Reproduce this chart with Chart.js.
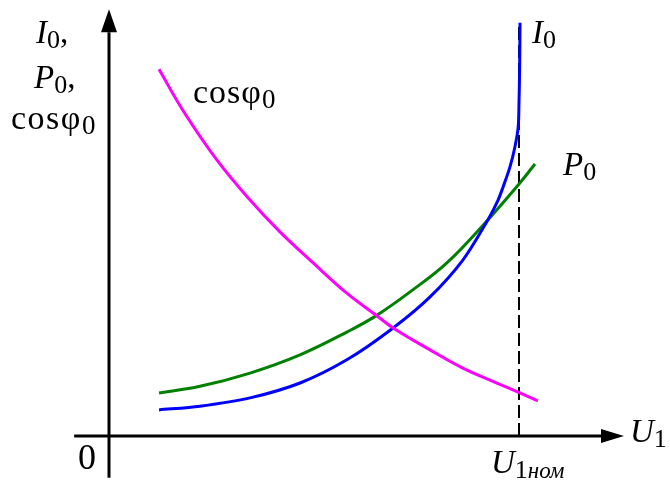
<!DOCTYPE html>
<html><head><meta charset="utf-8">
<script src="https://cdn.jsdelivr.net/npm/chart.js@4/dist/chart.umd.min.js"></script>
<style>html,body{margin:0;padding:0;background:#fff}canvas{display:block}</style>
</head><body>
<canvas id="c" width="670" height="483"></canvas>
<script>
// Data (arbitrary units, origin at axes intersection; U1nom = 10)
const cosU = [1.22, 1.80, 2.63, 3.44, 4.17, 4.98, 5.80, 6.54, 6.93, 7.83, 8.63, 9.46, 10.02, 10.46];
const cosV = [8.86, 7.87, 6.67, 5.70, 4.93, 4.18, 3.45, 2.90, 2.61, 2.08, 1.64, 1.28, 1.04, 0.85];
const p0U = [1.22, 2.22, 3.44, 4.66, 5.80, 6.54, 7.41, 8.24, 9.24, 10.02, 10.39];
const p0V = [1.04, 1.20, 1.52, 1.96, 2.51, 2.92, 3.53, 4.18, 5.22, 6.11, 6.57];
const i0U = [1.22, 2.22, 3.44, 4.66, 5.80, 6.93, 7.83, 8.63, 9.24, 9.49, 9.61, 9.78, 9.90, 9.98, 10.00, 10.015, 10.025];
const i0V = [0.63, 0.72, 0.92, 1.28, 1.84, 2.61, 3.36, 4.25, 5.22, 5.70, 6.01, 6.50, 6.98, 7.46, 8.04, 8.84, 9.98];
const uNom = 10;
const nomTop = 9.9;
const xAxisRange = [-0.85, 12.0];
const yAxisRange = [-1.01, 9.75];

const pts = (xs, ys) => xs.map((x, i) => ({x, y: ys[i]}));
const F = '"Liberation Serif", "Times New Roman", serif';

const axesPlugin = {
  id: 'axesDraw',
  beforeDatasetsDraw(chart) {
    const ctx = chart.ctx, xs = chart.scales.x, ys = chart.scales.y;
    const x0 = xs.getPixelForValue(0), y0 = ys.getPixelForValue(0);
    ctx.save();
    ctx.strokeStyle = '#000'; ctx.fillStyle = '#000'; ctx.lineWidth = 3;
    const xa = xs.getPixelForValue(xAxisRange[0]), xb = xs.getPixelForValue(xAxisRange[1]);
    ctx.beginPath(); ctx.moveTo(xa, y0); ctx.lineTo(xb, y0); ctx.stroke();
    ctx.beginPath(); ctx.moveTo(xb + 23, y0); ctx.lineTo(xb, y0 - 7); ctx.lineTo(xb, y0 + 7); ctx.closePath(); ctx.fill();
    const ya = ys.getPixelForValue(yAxisRange[0]), yb = ys.getPixelForValue(yAxisRange[1]);
    ctx.beginPath(); ctx.moveTo(x0, ya); ctx.lineTo(x0, yb); ctx.stroke();
    ctx.beginPath(); ctx.moveTo(x0, yb - 23); ctx.lineTo(x0 - 8, yb); ctx.lineTo(x0 + 8, yb); ctx.closePath(); ctx.fill();
    ctx.restore();
  },
  afterDatasetsDraw(chart) {
    const ctx = chart.ctx;
    ctx.save();
    ctx.fillStyle = '#000';
    ctx.textBaseline = 'alphabetic';
    function sym(x, y, main, sub, tail, italic, spacing, size) {
      const s = size || 33;
      ctx.letterSpacing = (spacing || 0) + 'px';
      ctx.font = (italic ? 'italic ' : '') + s + 'px ' + F;
      ctx.fillText(main, x, y);
      let w = ctx.measureText(main).width;
      ctx.letterSpacing = '0px';
      ctx.font = Math.round(s * 0.79) + 'px ' + F;
      ctx.fillText(sub, x + w, y + 5);
      let w2 = ctx.measureText(sub).width;
      if (tail) { ctx.font = s + 'px ' + F; ctx.fillText(tail, x + w + w2, y); }
    }
    sym(36, 43, 'I', '0', ',', true);
    sym(34, 88, 'P', '0', ',', true);
    sym(11, 129, 'cosφ', '0', '', false, 1.5, 34);
    sym(193, 103, 'cosφ', '0', '', false, 1, 34);
    sym(532, 43, 'I', '0', '', true);
    sym(563, 175, 'P', '0', '', true);
    sym(630, 442, 'U', '1', '', true);
    ctx.font = 'italic 33px ' + F; ctx.fillText('U', 491, 473);
    let w = ctx.measureText('U').width;
    ctx.font = '26px ' + F; ctx.fillText('1', 491 + w, 478);
    let w1 = ctx.measureText('1').width;
    ctx.font = 'italic 23px ' + F; ctx.fillText('ном', 491 + w + w1, 478);
    ctx.font = '36px ' + F; ctx.fillText('0', 78, 469);
    ctx.restore();
  }
};

new Chart(document.getElementById('c'), {
  type: 'line',
  data: {
    datasets: [
      {data: pts([uNom, uNom], [0, nomTop]), borderColor: '#000', borderWidth: 2, borderDash: [13, 5], pointRadius: 0, order: 10, tension: 0},
      {data: pts(cosU, cosV), borderColor: '#ff00ff', borderWidth: 3, pointRadius: 0, tension: 0.4, order: 1},
      {data: pts(p0U, p0V), borderColor: '#008000', borderWidth: 3, pointRadius: 0, tension: 0.4, order: 3},
      {data: pts(i0U, i0V), borderColor: '#0000ff', borderWidth: 3, pointRadius: 0, tension: 0.3, order: 2}
    ]
  },
  options: {
    responsive: false, animation: false,
    layout: {padding: 0},
    plugins: {legend: {display: false}, tooltip: {enabled: false}},
    scales: {
      x: {type: 'linear', min: -109 / 41, max: (670 - 109) / 41, display: false},
      y: {type: 'linear', min: -(483 - 436) / 41.4, max: 436 / 41.4, display: false}
    }
  },
  plugins: [axesPlugin]
});
</script>
</body></html>
